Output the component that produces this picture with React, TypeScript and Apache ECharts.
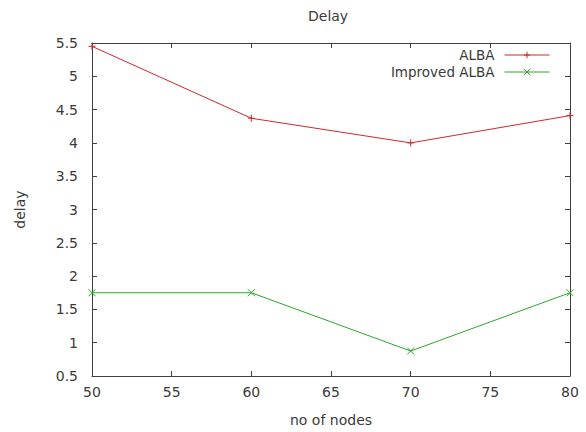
import React, { useEffect, useRef } from "react";
import * as echarts from "echarts";

const nodes = [50, 60, 70, 80];
const albaDelay = [5.45, 4.37, 4.0, 4.41];
const improvedDelay = [1.75, 1.75, 0.875, 1.75];
const seriesNames = ["ALBA", "Improved ALBA"];

const FONT = "DejaVu Sans";
const TEXT = "#3a3a3a";
const AXIS = "#404040";
const RED = "#d02828";
const GREEN = "#2aa82a";

const plusPath = "path://M4,0 L4,8 M0,4 L8,4";
const crossPath = "path://M0,0 L8,8 M8,0 L0,8";

export default function App() {
  const ref = useRef<HTMLDivElement>(null);
  useEffect(() => {
    if (!ref.current) return;
    const chart = echarts.init(ref.current, undefined, { renderer: "svg" });
    const xBase = {
      type: "value" as const,
      min: 50,
      max: 80,
      interval: 5,
      splitLine: { show: false },
      axisLine: { show: true, lineStyle: { color: AXIS, width: 1 } },
      axisTick: { show: true, inside: true, length: 5, lineStyle: { color: AXIS } },
    };
    const yBase = {
      type: "value" as const,
      min: 0.5,
      max: 5.5,
      interval: 0.5,
      splitLine: { show: false },
      axisLine: { show: true, lineStyle: { color: AXIS, width: 1 } },
      axisTick: { show: true, inside: true, length: 5, lineStyle: { color: AXIS } },
    };
    chart.setOption({
      animation: false,
      backgroundColor: "#ffffff",
      title: {
        text: "Delay",
        left: 303,
        top: 4,
        textStyle: { fontFamily: FONT, fontSize: 14, fontWeight: "normal", color: TEXT },
      },
      grid: { left: 92, right: 16, top: 43, bottom: 55 },
      legend: {
        orient: "vertical",
        right: 31,
        top: 43,
        align: "right",
        itemWidth: 45,
        itemHeight: 8,
        itemGap: 3,
        data: seriesNames,
        lineStyle: { width: 1 },
        itemStyle: { borderWidth: 1 },
        textStyle: { fontFamily: FONT, fontSize: 13.5, color: TEXT, padding: [0, 5, 0, 0] },
      },
      xAxis: [
        {
          ...xBase,
          position: "bottom",
          name: "no of nodes",
          nameLocation: "middle",
          nameGap: 37,
          nameTextStyle: { fontFamily: FONT, fontSize: 14, color: TEXT },
          axisLabel: { fontFamily: FONT, fontSize: 14, color: TEXT, margin: 9 },
        },
        { ...xBase, position: "top", axisLabel: { show: false } },
      ],
      yAxis: [
        {
          ...yBase,
          position: "left",
          name: "delay",
          nameLocation: "middle",
          nameGap: 65,
          nameTextStyle: { fontFamily: FONT, fontSize: 14, color: TEXT },
          axisLabel: { fontFamily: FONT, fontSize: 14, color: TEXT, margin: 14 },
        },
        { ...yBase, position: "right", axisLabel: { show: false } },
      ],
      series: [
        {
          name: seriesNames[0],
          type: "line",
          data: nodes.map((x, i) => [x, albaDelay[i]]),
          symbol: plusPath,
          symbolSize: 7,
          lineStyle: { color: RED, width: 1 },
          itemStyle: { color: RED, borderColor: RED, borderWidth: 1 },
        },
        {
          name: seriesNames[1],
          type: "line",
          data: nodes.map((x, i) => [x, improvedDelay[i]]),
          symbol: crossPath,
          symbolSize: 7,
          lineStyle: { color: GREEN, width: 1 },
          itemStyle: { color: GREEN, borderColor: GREEN, borderWidth: 1 },
        },
      ],
    });
    return () => chart.dispose();
  }, []);
  return (
    <div
      ref={ref}
      style={{ position: "fixed", left: 0, top: 0, width: 586, height: 432, background: "#fff" }}
    />
  );
}
